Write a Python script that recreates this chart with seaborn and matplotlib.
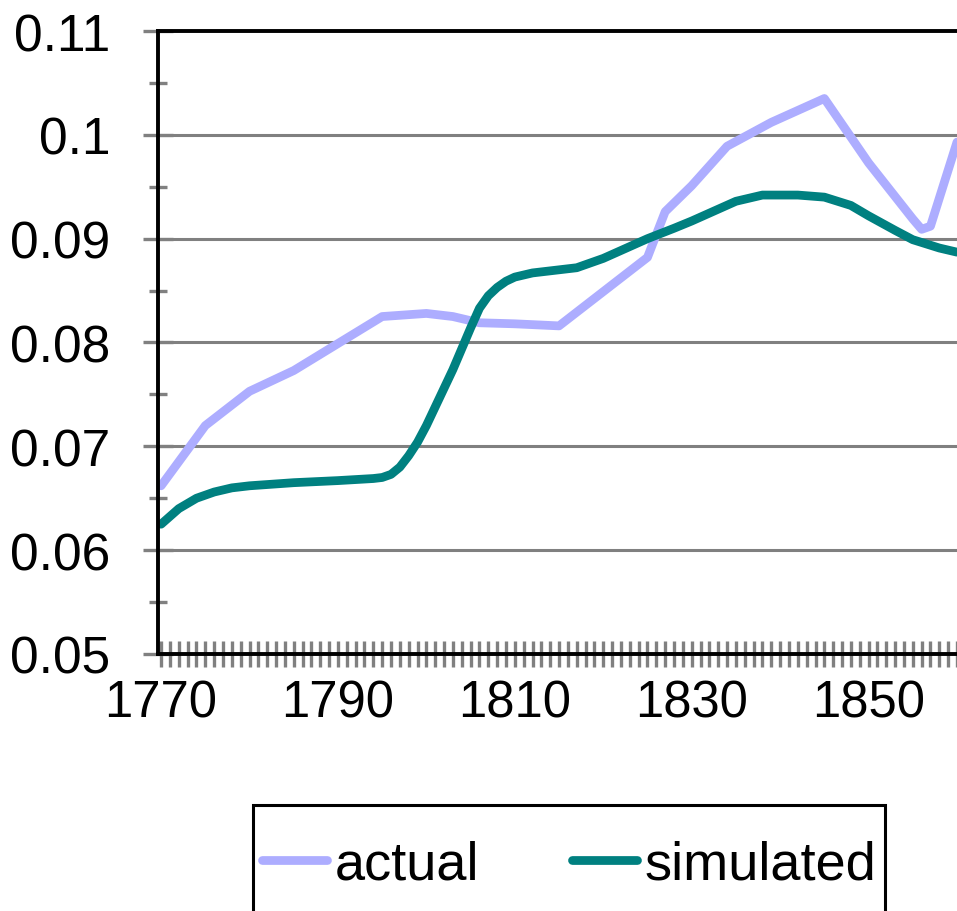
import numpy as np
import pandas as pd
import matplotlib
matplotlib.use("Agg")
import matplotlib.pyplot as plt
import seaborn as sns
from matplotlib.patches import Rectangle
from matplotlib.ticker import MultipleLocator, FixedLocator, FixedFormatter

# values
actual_years = [1770, 1775, 1780, 1785, 1790, 1795, 1800, 1803, 1806, 1810, 1815,
                1820, 1825, 1827, 1830, 1834, 1839, 1845, 1850, 1855, 1856, 1857, 1860]
actual_vals = [0.0662, 0.0720, 0.0753, 0.0773, 0.0799, 0.0825, 0.0828, 0.0825, 0.0819,
               0.0818, 0.0816, 0.0849, 0.0882, 0.0926, 0.0951, 0.0989, 0.1012, 0.1035,
               0.0973, 0.0919, 0.0909, 0.0912, 0.0993]

sim_years = [1770, 1772, 1774, 1776, 1778, 1780, 1785, 1790, 1794, 1795, 1796, 1797,
             1798, 1799, 1800, 1801, 1802, 1803, 1804, 1805, 1806, 1807, 1808, 1809,
             1810, 1812, 1815, 1817, 1820, 1825, 1828, 1830, 1835, 1838, 1842, 1845,
             1848, 1850, 1853, 1855, 1858, 1860]
sim_vals = [0.0625, 0.0640, 0.0650, 0.0656, 0.0660, 0.0662, 0.0665, 0.0667, 0.0669,
            0.0670, 0.0673, 0.0680, 0.0691, 0.0704, 0.0720, 0.0738, 0.0756, 0.0774,
            0.0794, 0.0814, 0.0833, 0.0845, 0.0853, 0.0859, 0.0863, 0.0867, 0.0870,
            0.0872, 0.0881, 0.0900, 0.0910, 0.0917, 0.0936, 0.0942, 0.0942, 0.0940,
            0.0932, 0.0922, 0.0908, 0.0899, 0.0891, 0.0887]

series_names = ["actual", "simulated"]
series_colors = ["#ADADFF", "#008080"]
year_ticks = [1770, 1790, 1810, 1830, 1850]
y_ticks = [0.05, 0.06, 0.07, 0.08, 0.09, 0.10, 0.11]
y_labels = ["0.05", "0.06", "0.07", "0.08", "0.09", "0.1", "0.11"]

df = pd.concat([
    pd.DataFrame({"year": actual_years, "value": actual_vals, "series": series_names[0]}),
    pd.DataFrame({"year": sim_years, "value": sim_vals, "series": series_names[1]}),
])

sns.set_style("white")
plt.rcParams["font.family"] = ["Liberation Sans", "DejaVu Sans"]
plt.rcParams["text.color"] = "black"

fig = plt.figure(figsize=(9.57, 9.12), dpi=100)
ax = fig.add_axes([158 / 957, 1 - 655 / 912, 799 / 957, 623 / 912])

sns.lineplot(data=df, x="year", y="value", hue="series", hue_order=series_names,
             palette=series_colors, linewidth=6.3, estimator=None, sort=True,
             legend=False, ax=ax)
for line in ax.get_lines():
    line.set_solid_capstyle("round")
    line.set_solid_joinstyle("round")

ax.set_xlim(1769.65, 1860.0)
ax.set_ylim(0.05, 0.11)
ax.set_xlabel("")
ax.set_ylabel("")

# grid
for v in y_ticks[1:-1]:
    ax.axhline(v, color="#808080", lw=2.2, zorder=0)

ax.yaxis.set_major_locator(FixedLocator(y_ticks))
ax.yaxis.set_major_formatter(FixedFormatter(y_labels))
ax.yaxis.set_minor_locator(FixedLocator([0.055, 0.065, 0.075, 0.085, 0.095, 0.105]))
ax.xaxis.set_major_locator(FixedLocator(year_ticks))
ax.xaxis.set_minor_locator(MultipleLocator(1))

ax.tick_params(axis="y", which="major", direction="inout", length=21, width=2.4,
               color="#808080", labelsize=37, labelcolor="black", pad=24, left=True)
ax.tick_params(axis="y", which="minor", direction="inout", length=13, width=2.4,
               color="#808080", left=True)
ax.tick_params(axis="x", which="both", direction="inout", length=19, width=2.4,
               color="#808080", bottom=True)
ax.tick_params(axis="x", which="major", labelsize=36.5, labelcolor="black", pad=8)

for s in ["left", "bottom", "top"]:
    ax.spines[s].set_color("black")
    ax.spines[s].set_linewidth(2.8)
ax.spines["right"].set_visible(False)

# legend box runs off the bottom of the picture
fig.patches.append(Rectangle((253 / 957, -0.01), (885 - 253) / 957, (912 - 806) / 912 + 0.01,
                             transform=fig.transFigure, fill=False, edgecolor="black",
                             linewidth=2.2))
handles = [plt.Line2D([], [], color=c, lw=6.3, solid_capstyle="round") for c in series_colors]
leg = fig.legend(handles, series_names, loc="center left",
                 bbox_to_anchor=(262 / 957, 1 - 866 / 912), borderaxespad=0,
                 ncol=2, fontsize=39, frameon=False,
                 handlelength=1.2, handletextpad=0.15, columnspacing=1.7, borderpad=0)

fig.savefig("out.png", dpi=100)
